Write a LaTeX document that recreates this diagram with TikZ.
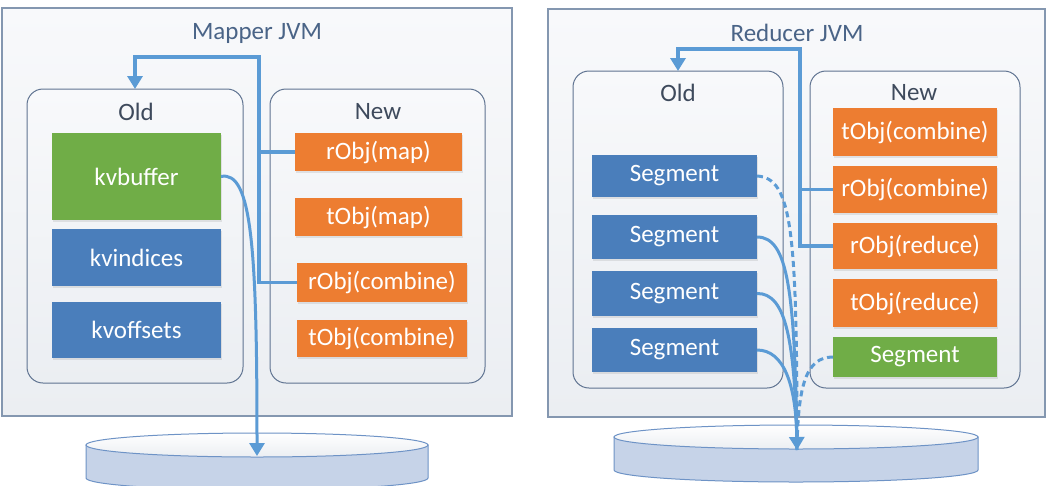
\documentclass[tikz,border=0pt]{standalone}
\usepackage{fontspec}
\setmainfont{Carlito}
\usetikzlibrary{arrows.meta,shadows}
\definecolor{orng}{HTML}{ED7D31}
\definecolor{blu}{HTML}{4A7EBB}
\definecolor{grn}{HTML}{70AD47}
\definecolor{conncol}{HTML}{5B9BD5}
\definecolor{pborder}{HTML}{8497B0}
\definecolor{iborder}{HTML}{5F7391}
\definecolor{titlecol}{HTML}{4A6487}
\definecolor{labcol}{HTML}{3E4A5C}
\definecolor{diskside}{HTML}{C6D3E8}
\definecolor{diskline}{HTML}{6E93C6}
\definecolor{pfilltop}{HTML}{F8F9FB}
\definecolor{pfillbot}{HTML}{EBEEF2}
\begin{document}
\begin{tikzpicture}[x=1pt,y=-1pt,
  every node/.style={font=\fontsize{25}{30}\selectfont, inner sep=0pt, outer sep=0pt},
  panel/.style={draw=pborder, line width=1.2pt, top color=pfilltop, bottom color=pfillbot, minimum width=#1},
  inner/.style={draw=iborder, line width=1pt, rounded corners=16pt, top color=pfilltop, bottom color=pfillbot},
  obox/.style={fill=orng, text=white, drop shadow={opacity=0.18, shadow xshift=1pt, shadow yshift=-2pt}},
  bbox/.style={fill=blu, text=white, drop shadow={opacity=0.18, shadow xshift=1pt, shadow yshift=-2pt}},
  gbox/.style={fill=grn, text=white, drop shadow={opacity=0.18, shadow xshift=1pt, shadow yshift=-2pt}},
  ttl/.style={text=titlecol},
  lab/.style={text=labcol},
  conn/.style={draw=conncol, line width=3.5pt},
  tip/.style={-{Triangle[width=15pt,length=13pt]}},
  dsk/.style={draw=diskline, line width=1pt}
]
\useasboundingbox (0,0) rectangle (1051,485);
\fill[white] (0,0) rectangle (1051,485);

% ---------- Mapper ----------
\node[panel=510, minimum height=408] (mjvm) at (257,212) {};
\node[ttl] (mtitle) at (257,33) {Mapper JVM};
\node[inner, minimum width=216, minimum height=294] (oldL) at (135,236) {};
\node[inner, minimum width=215, minimum height=294] (newL) at (377.5,236) {};
\node[lab] (oldLl) at (136,112) {Old};
\node[lab] (newLl) at (378,112) {New};
\node[gbox, minimum width=169, minimum height=87] (kvb) at (136.5,176.5) {kvbuffer};
\node[bbox, minimum width=169, minimum height=57] (kvi) at (136.5,257.5) {kvindices};
\node[bbox, minimum width=169, minimum height=56] (kvo) at (136.5,330) {kvoffsets};
\node[obox, minimum width=167, minimum height=38] (rmap) at (378.5,152) {rObj(map)};
\node[obox, minimum width=167, minimum height=38] (tmap) at (378.5,217) {tObj(map)};
\node[obox, minimum width=170, minimum height=39] (rcomb) at (382,282.5) {rObj(combine)};
\node[obox, minimum width=170, minimum height=37] (tcomb) at (382,338.5) {tObj(combine)};

% disk left
\path[dsk, fill=diskside] (86,445) -- (86,478) arc[start angle=180,end angle=360,x radius=171pt,y radius=12pt] -- (428,445) -- cycle;
\path[dsk, top color=white, bottom color=pfillbot] (257,445) ellipse[x radius=171pt, y radius=12pt];
\coordinate (dskL) at (257,456);

\coordinate (jl) at (259,57);
\draw[conn] (rcomb.west) -| (jl);
\draw[conn, tip] (rmap.west) -| (jl) -| (oldL.north);
\draw[conn, line width=3pt, tip] (kvb.east) .. controls (252,170) and (257,250) .. (dskL);

% ---------- Reducer ----------
\node[panel=497, minimum height=408] (rjvm) at (796.5,213) {};
\node[ttl] (rtitle) at (797,33) {Reducer JVM};
\node[inner, minimum width=210, minimum height=317] (oldR) at (678,229.5) {};
\node[inner, minimum width=210, minimum height=317] (newR) at (915,229.5) {};
\node[lab] (oldRl) at (678,93) {Old};
\node[lab] (newRl) at (914,93) {New};
\node[bbox, minimum width=165, minimum height=42] (s1) at (674.5,176) {Segment};
\node[bbox, minimum width=165, minimum height=44] (s2) at (674.5,237) {Segment};
\node[bbox, minimum width=165, minimum height=45] (s3) at (674.5,293.5) {Segment};
\node[bbox, minimum width=165, minimum height=44] (s4) at (674.5,350) {Segment};
\node[obox, minimum width=164, minimum height=48] (tcombR) at (915,132) {tObj(combine)};
\node[obox, minimum width=164, minimum height=47] (rcombR) at (915,189.5) {rObj(combine)};
\node[obox, minimum width=164, minimum height=46] (rred) at (915,246) {rObj(reduce)};
\node[obox, minimum width=164, minimum height=48] (tred) at (915,303) {tObj(reduce)};
\node[gbox, minimum width=164, minimum height=40] (gs) at (915,357) {Segment};

% disk right
\path[dsk, fill=diskside] (614,437) -- (614,470) arc[start angle=180,end angle=360,x radius=182pt,y radius=12pt] -- (978,437) -- cycle;
\path[dsk, top color=white, bottom color=pfillbot] (796,437) ellipse[x radius=182pt, y radius=12pt];
\coordinate (dskR) at (797,450);

\coordinate (jr) at (800,49);
\draw[conn] (rred.west) -| (jr);
\draw[conn, tip] (rcombR.west) -| (jr) -| (oldR.north);
\draw[conn, line width=3pt, dash pattern=on 6pt off 4pt] (s1.east) .. controls (792,178) and (797,230) .. (dskR);
\draw[conn, line width=3pt, dash pattern=on 6pt off 4pt] (gs.west) .. controls (806,357) and (798,385) .. (dskR);
\draw[conn, line width=3pt] (s2.east) .. controls (788,237) and (795,290) .. (dskR);
\draw[conn, line width=3pt] (s3.east) .. controls (786,293) and (795,340) .. (dskR);
\draw[conn, line width=3pt, tip] (s4.east) .. controls (784,350) and (796,385) .. (dskR);
\end{tikzpicture}
\end{document}
